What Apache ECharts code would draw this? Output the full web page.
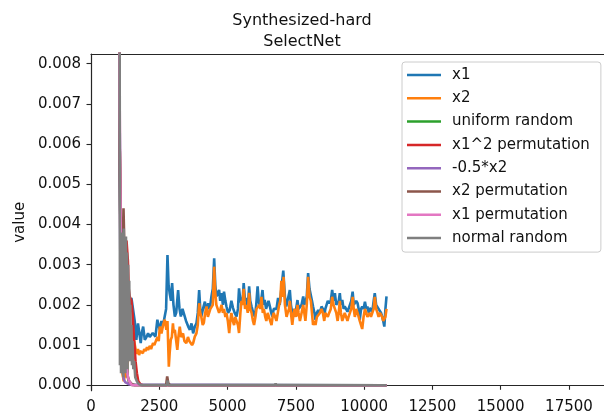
<!DOCTYPE html>
<html>
<head>
<meta charset="utf-8">
<script src="https://cdn.jsdelivr.net/npm/echarts@6/dist/echarts.min.js"></script>
<style>
  html, body { margin: 0; padding: 0; background: #fff; }
  #chart { width: 604px; height: 416px; }
</style>
</head>
<body>
<div id="chart"></div>
<script>
// Feature-importance curves per training step
const seriesNames = ['x1', 'x2', 'uniform random', 'x1^2 permutation', '-0.5*x2',
                     'x2 permutation', 'x1 permutation', 'normal random'];
const seriesColors = ['#1f77b4', '#ff7f0e', '#2ca02c', '#d62728', '#9467bd',
                      '#8c564b', '#e377c2', '#7f7f7f'];
const xTicks = [0, 2500, 5000, 7500, 10000, 12500, 15000, 17500];
const yTicks = [0, 0.001, 0.002, 0.003, 0.004, 0.005, 0.006, 0.007, 0.008];

const x1Steps = [
  1000,1050,1100,1150,1200,1250,1300,1350,1400,1480,
  1540,1600,1660,1720,1770,1820,1860,1910,1970,2030,
  2090,2150,2210,2260,2310,2360,2430,2470,2520,2580,
  2640,2700,2750,2800,2840,2880,2930,2970,3020,3070,
  3120,3190,3240,3290,3350,3410,3480,3560,3620,3680,
  3740,3800,3860,3910,3960,4000,4040,4100,4170,4230,
  4290,4350,4410,4460,4510,4550,4590,4640,4690,4730,
  4780,4830,4870,4920,4960,5020,5080,5140,5200,5260,
  5330,5380,5420,5470,5510,5560,5590,5640,5690,5740,
  5790,5830,5880,5940,6000,6050,6100,6140,6180,6230,
  6280,6320,6360,6410,6450,6500,6550,6600,6640,6690,
  6730,6790,6850,6910,6970,7040,7100,7150,7200,7280,
  7320,7370,7420,7460,7510,7560,7600,7650,7710,7770,
  7810,7850,7900,7950,8000,8050,8090,8130,8180,8220,
  8270,8320,8380,8440,8490,8540,8580,8620,8670,8720,
  8780,8830,8880,8930,8980,9030,9070,9110,9150,9200,
  9250,9290,9340,9390,9430,9480,9530,9580,9620,9660,
  9710,9760,9800,9840,9890,9930,9980,10030,10080,10120,
  10170,10210,10250,10300,10350,10390,10440,10490,10530,10580,
  10620,10660,10700,10740,10780,10820
];
const x1Values = [
  0.05,0.0065,0.0015,0.0004,0.0002,0.0009,0.0005,0.0011,0.0018,0.00217,
  0.00221,0.0016,0.00113,0.00154,0.0013,0.00105,0.0013,0.00146,0.00113,0.0012,
  0.00129,0.0012,0.00117,0.0013,0.00134,0.00121,0.00163,0.0015,0.00138,0.0016,
  0.0015,0.00154,0.0019,0.00324,0.0025,0.00229,0.0021,0.00254,0.002,0.00171,
  0.0018,0.00237,0.0019,0.00171,0.0019,0.00187,0.0016,0.00146,0.00138,0.00154,
  0.00129,0.00146,0.00154,0.0018,0.00237,0.0019,0.00171,0.0019,0.00208,0.0018,
  0.00204,0.0019,0.00221,0.0024,0.00316,0.0025,0.00221,0.0023,0.00237,0.0021,
  0.00229,0.002,0.00233,0.0021,0.00196,0.0018,0.00187,0.0021,0.00192,0.0018,
  0.00171,0.0019,0.00241,0.0021,0.00204,0.0022,0.00254,0.0021,0.00217,0.0019,
  0.00246,0.0021,0.00196,0.0018,0.00171,0.002,0.00246,0.0021,0.00196,0.0021,
  0.00237,0.002,0.00212,0.0019,0.00187,0.0021,0.00196,0.0018,0.00171,0.0019,
  0.00187,0.0019,0.00217,0.002,0.0024,0.00285,0.0022,0.00196,0.002,0.00237,
  0.002,0.00179,0.0019,0.00171,0.0019,0.00212,0.0019,0.00187,0.002,0.00221,
  0.002,0.00196,0.0022,0.00279,0.0024,0.00237,0.0021,0.00196,0.0018,0.00163,
  0.0018,0.00187,0.0018,0.00196,0.0019,0.00171,0.0019,0.00187,0.0021,0.00204,
  0.0021,0.00237,0.0021,0.00229,0.002,0.00196,0.0021,0.00229,0.002,0.00212,
  0.0019,0.00196,0.0019,0.00183,0.0019,0.002,0.0021,0.00233,0.002,0.00196,
  0.0021,0.00204,0.0019,0.00163,0.0019,0.00196,0.0019,0.00208,0.0019,0.00196,
  0.0018,0.00192,0.0019,0.00183,0.0021,0.00229,0.002,0.00204,0.0019,0.00187,
  0.0018,0.00171,0.0016,0.00146,0.0019,0.00221
];

const x2Steps = [
  1000,1050,1100,1150,1200,1250,1300,1350,1400,1420,
  1480,1530,1580,1630,1670,1720,1760,1800,1850,1900,
  1950,2000,2050,2090,2150,2200,2270,2320,2390,2440,
  2480,2520,2580,2640,2700,2760,2800,2850,2880,2920,
  2960,3000,3030,3070,3120,3160,3200,3250,3300,3370,
  3420,3490,3550,3600,3650,3700,3740,3800,3860,3910,
  3960,4000,4040,4090,4130,4180,4230,4280,4320,4370,
  4410,4460,4510,4550,4590,4640,4690,4740,4780,4830,
  4870,4920,4960,5010,5060,5100,5140,5190,5240,5280,
  5330,5380,5420,5470,5510,5550,5590,5640,5690,5740,
  5790,5830,5880,5930,5970,6020,6060,6110,6160,6200,
  6240,6290,6330,6380,6420,6470,6520,6560,6610,6650,
  6690,6740,6790,6840,6890,6930,6970,7020,7050,7100,
  7160,7200,7250,7280,7320,7370,7420,7460,7510,7560,
  7600,7650,7710,7770,7810,7850,7900,7950,8000,8050,
  8090,8130,8180,8220,8270,8320,8380,8440,8490,8540,
  8580,8620,8670,8720,8780,8830,8880,8930,8980,9030,
  9070,9110,9150,9200,9250,9290,9340,9390,9430,9480,
  9530,9580,9620,9660,9710,9760,9800,9840,9890,9930,
  9980,10030,10080,10120,10170,10210,10250,10300,10350,10390,
  10440,10490,10530,10580,10620,10660,10700,10740,10780,10820
];
const x2Values = [
  0.05,0.006,0.0012,0.0003,0.0001,0.0003,0.0002,0.0006,0.0012,0.00129,
  0.00146,0.0012,0.0011,0.0009,0.00078,0.0009,0.00075,0.00085,0.00088,0.0008,
  0.0009,0.00085,0.00095,0.00088,0.00098,0.0009,0.00105,0.001,0.00113,0.0012,
  0.0011,0.00146,0.00129,0.0015,0.00163,0.00138,0.0016,0.00046,0.0008,0.00113,
  0.0012,0.00154,0.0013,0.00138,0.0011,0.00088,0.0012,0.00146,0.0012,0.00129,
  0.0011,0.00105,0.0012,0.0011,0.00113,0.001,0.00105,0.00121,0.00129,0.0015,
  0.00204,0.0018,0.0017,0.0015,0.00155,0.0018,0.00196,0.0017,0.0017,0.0019,
  0.0019,0.002,0.00295,0.0023,0.002,0.0019,0.0018,0.0019,0.002,0.0018,
  0.0019,0.0017,0.0018,0.0016,0.0013,0.0016,0.0018,0.0016,0.0015,0.0017,
  0.0016,0.0015,0.0013,0.0018,0.0021,0.002,0.0024,0.0019,0.002,0.0018,
  0.0023,0.0019,0.0018,0.0016,0.0015,0.0017,0.0019,0.0019,0.002,0.0019,
  0.0022,0.0018,0.0019,0.0017,0.0016,0.0018,0.0018,0.0016,0.0015,0.0017,
  0.0018,0.0017,0.0016,0.0018,0.002,0.0021,0.0026,0.0022,0.0027,0.002,
  0.0017,0.0018,0.0019,0.0021,0.0018,0.0015,0.0018,0.0019,0.0017,0.002,
  0.0018,0.0016,0.0018,0.002,0.0018,0.0016,0.002,0.0027,0.0022,0.0021,
  0.0018,0.0015,0.0016,0.0015,0.0017,0.0017,0.0018,0.0019,0.0018,0.0016,
  0.0018,0.0018,0.0017,0.0018,0.0019,0.0022,0.002,0.0019,0.0018,0.0016,
  0.0018,0.0021,0.0018,0.0016,0.0017,0.0018,0.0017,0.0016,0.0017,0.0018,
  0.0019,0.0022,0.0019,0.0017,0.0019,0.0018,0.0017,0.0016,0.0016,0.0014,
  0.0017,0.0019,0.0018,0.0017,0.0017,0.0018,0.0017,0.0017,0.0019,0.0022,
  0.0019,0.0018,0.0017,0.0018,0.0018,0.0017,0.0016,0.0016,0.0017,0.0019
];

const uniformSteps = [1000,1050,1100,1150,1200,1250,1280,1300,1350,1400,1500,10820];
const uniformValues = [0.05,0.006,0.002,0.0009,0.0011,0.0014,0.0013,0.0006,0.0002,0.00005,0.00001,0];

const x1SqPermSteps = [1000,1050,1100,1150,1200,1250,1300,1350,1380,1420,1480,1530,1580,1630,1680,1730,1800,1900,10820];
const x1SqPermValues = [0.05,0.006,0.0034,0.003,0.0033,0.0035,0.0036,0.0031,0.0024,0.0022,0.0021,0.0017,0.0011,0.0006,0.0003,0.0001,0.00003,0,0];

const negHalfX2Steps = [1000,1050,1100,1150,1200,1250,1300,1400,10820];
const negHalfX2Values = [0.05,0.005,0.0012,0.0004,0.00015,0.00008,0.00004,0.00002,0];

const x2PermSteps = [1000,1050,1100,1150,1190,1220,1260,1300,1350,1400,1500,1600,2750,2790,2830,2900,10820];
const x2PermValues = [0.05,0.006,0.002,0.003,0.0044,0.0035,0.001,0.0005,0.0002,0.0001,0.00003,0,0,0.00022,0.00005,0,0];

const x1PermSteps = [1000,1050,1100,1150,1200,1230,1260,1300,1350,1400,1500,10820];
const x1PermValues = [0.05,0.007,0.003,0.0018,0.0015,0.0016,0.0012,0.0005,0.0002,0.0001,0,0];

const normalSteps = [
  1000,1050,1060,1080,1100,1120,1140,1160,1180,1200,
  1220,1240,1260,1280,1300,1320,1340,1360,1380,1400,
  1420,1440,1460,1480,1500,1520,1550,1580,1620,1680,
  1750,1850,2780,2800,2830,6740,6760,6780,8790,8800,
  8820,9950,9960,9980,10820
];
const normalValues = [
  0.05,0.009,0.0005,0.0037,0.0003,0.0038,0.0004,0.0036,0.0002,0.0039,
  0.0005,0.0035,0.0003,0.0037,0.0006,0.0033,0.0004,0.003,0.0008,0.0026,
  0.0006,0.002,0.0009,0.0015,0.0005,0.0011,0.0004,0.0006,0.0002,0.0001,
  0.00003,0,0,0.00012,0,0,0.00005,0,0,0.00003,
  0,0,0.00003,0,0
];

const stepArrays = [x1Steps, x2Steps, uniformSteps, x1SqPermSteps, negHalfX2Steps, x2PermSteps, x1PermSteps, normalSteps];
const valueArrays = [x1Values, x2Values, uniformValues, x1SqPermValues, negHalfX2Values, x2PermValues, x1PermValues, normalValues];

const FONT = 'DejaVu Sans';
const X_MAX = 18783;
const Y_MIN = -0.000135;
const Y_MAX = 0.00824;

const chart = echarts.init(document.getElementById('chart'), null, { renderer: 'canvas' });

const series = seriesNames.map((name, i) => ({
  name: name,
  type: 'line',
  data: stepArrays[i].map((s, k) => [s, valueArrays[i][k]]),
  showSymbol: false,
  symbol: 'none',
  lineStyle: { color: seriesColors[i], width: 2.6 },
  itemStyle: { color: seriesColors[i] },
  emphasis: { disabled: true },
  clip: true,
  z: 2 + i
}));

const spine = { show: true, lineStyle: { color: '#262626', width: 1.2 } };

chart.setOption({
  animation: false,
  backgroundColor: '#ffffff',
  title: {
    text: 'Synthesized-hard\nSelectNet',
    left: 297,
    top: 5,
    textAlign: 'center',
    textStyle: { fontFamily: FONT, fontSize: 16, fontWeight: 'normal', color: '#111', lineHeight: 21 }
  },
  grid: { left: 91, top: 54, right: 0, bottom: 25.3, containLabel: false },
  legend: {
    orient: 'vertical',
    left: 402,
    top: 62,
    data: seriesNames,
    icon: 'rect',
    itemWidth: 34,
    itemHeight: 2.5,
    itemGap: 8.3,
    padding: [5.5, 11, 6.5, 5],
    backgroundColor: 'rgba(255,255,255,0.8)',
    borderColor: '#cccccc',
    borderWidth: 1,
    borderRadius: 3,
    textStyle: { fontFamily: FONT, fontSize: 15, color: '#111', lineHeight: 15, padding: [0, 0, 0, 6] }
  },
  xAxis: [{
    type: 'value',
    position: 'bottom',
    min: 0,
    max: X_MAX,
    splitLine: { show: false },
    axisLine: spine,
    axisTick: { show: true, inside: false, length: 4.5, customValues: xTicks, lineStyle: { color: '#262626', width: 1.1 } },
    axisLabel: {
      customValues: xTicks, fontFamily: FONT, fontSize: 15, color: '#111', margin: 9,
      formatter: v => String(v)
    }
  }, {
    type: 'value',
    position: 'top',
    min: 0,
    max: X_MAX,
    splitLine: { show: false },
    axisLine: spine,
    axisTick: { show: false },
    axisLabel: { show: false }
  }],
  yAxis: {
    type: 'value',
    min: Y_MIN,
    max: Y_MAX,
    name: 'value',
    nameLocation: 'middle',
    nameGap: 58,
    nameTextStyle: { fontFamily: FONT, fontSize: 15, color: '#111' },
    splitLine: { show: false },
    axisLine: spine,
    axisTick: { show: true, inside: false, length: 4.5, customValues: yTicks, lineStyle: { color: '#262626', width: 1.1 } },
    axisLabel: {
      customValues: yTicks,
      fontFamily: FONT, fontSize: 15, color: '#111', margin: 10,
      formatter: v => v.toFixed(3)
    }
  },
  series: series
});
</script>
</body>
</html>
